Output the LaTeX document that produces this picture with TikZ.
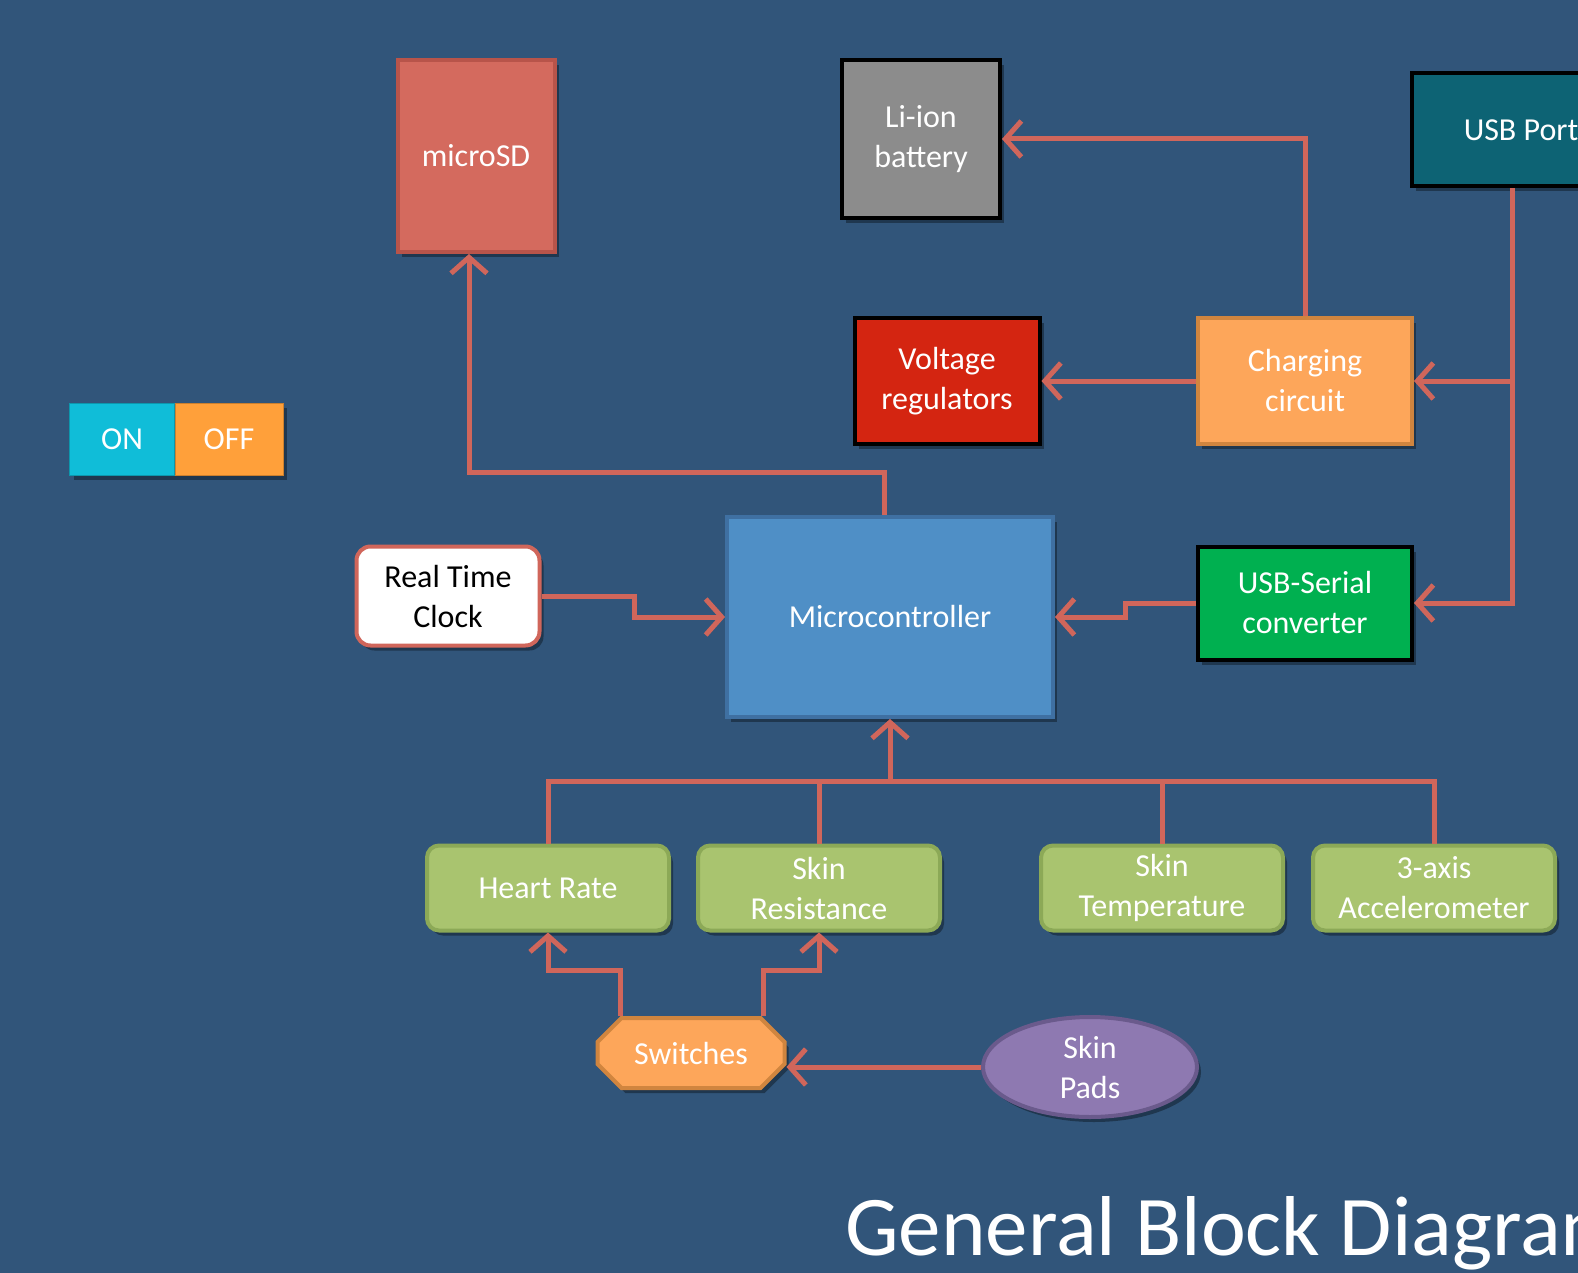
\documentclass[tikz,border=0pt]{standalone}
\usepackage{fontspec}
\setmainfont{Carlito}
\usetikzlibrary{arrows.meta}
\usetikzlibrary{backgrounds}
\usetikzlibrary{shapes.geometric}
\usetikzlibrary{shapes.misc}
\usetikzlibrary{shadows}
\definecolor{bgblue}{HTML}{31557A}
\definecolor{wire}{HTML}{D0665B}
\definecolor{sdred}{HTML}{D46A5E}
\definecolor{sdline}{HTML}{B8544A}
\definecolor{batgray}{HTML}{8C8C8C}
\definecolor{usbteal}{HTML}{0D6374}
\definecolor{vregred}{HTML}{D42511}
\definecolor{chgorange}{HTML}{FDA65A}
\definecolor{chgline}{HTML}{D0853F}
\definecolor{oncyan}{HTML}{10BDD8}
\definecolor{offorange}{HTML}{FFA03A}
\definecolor{mcblue}{HTML}{4F8FC6}
\definecolor{mcline}{HTML}{3F70A2}
\definecolor{sergreen}{HTML}{00B050}
\definecolor{sensgreen}{HTML}{A9C46F}
\definecolor{sensline}{HTML}{8CA957}
\definecolor{padpurple}{HTML}{8E79B1}
\definecolor{padline}{HTML}{6A5A8C}
\newcommand{\boxfont}{\fontsize{32}{40}\selectfont}

\begin{document}
\begin{tikzpicture}[x=1pt,y=-1pt,
    blk/.style={rectangle,line width=4pt,align=center,text=white,font=\boxfont,
        drop shadow={shadow xshift=4pt,shadow yshift=-5pt,opacity=0.35,fill=black}},
    sens/.style={blk,rounded corners=12pt,fill=sensgreen,draw=sensline,
        minimum width=242pt,minimum height=85pt},
    ln/.style={draw=wire,line width=5pt},
    ar/.style={ln,-{Straight Barb[length=16pt,width=36pt]}}]
    \fill[bgblue] (0,0) rectangle (1578,1273);
    \useasboundingbox (0,0) rectangle (1578,1273);

    \node[blk,fill=sdred,draw=sdline,minimum width=157pt,minimum height=192pt] (sd) at (476,156) {microSD};
    \node[blk,fill=batgray,draw=black,minimum width=158pt,minimum height=158pt] (bat) at (921,139) {Li-ion\\battery};
    \node[blk,fill=usbteal,draw=black,minimum width=218pt,minimum height=113pt] (usb) at (1521,130) {USB Port};
    \node[blk,fill=vregred,draw=black,minimum width=185pt,minimum height=126pt] (vr) at (947,381) {Voltage\\regulators};
    \node[blk,fill=chgorange,draw=chgline,minimum width=214pt,minimum height=126pt] (chg) at (1305,381) {Charging\\circuit};
    \node[blk,fill=oncyan,draw=oncyan!80!black,line width=1pt,minimum width=105pt,minimum height=72pt] (on) at (122,439) {ON};
    \node[blk,fill=offorange,draw=offorange!80!black,line width=1pt,minimum width=108pt,minimum height=72pt] (off) at (229,439) {OFF};
    \node[blk,fill=mcblue,draw=mcline,minimum width=326pt,minimum height=200pt] (mc) at (890,617) {Microcontroller};
    \node[blk,rounded corners=14pt,fill=white,draw=wire,text=black,minimum width=183pt,minimum height=99pt] (rtc) at (448,596) {Real Time\\Clock};
    \node[blk,fill=sergreen,draw=black,minimum width=214pt,minimum height=113pt] (ser) at (1305,603) {USB-Serial\\converter};

    \node[sens] (hr) at (548,888) {Heart Rate};
    \node[sens] (sr) at (819,888) {Skin\\Resistance};
    \node[sens] (st) at (1162,888) {Skin\\Temperature};
    \node[sens] (acc) at (1434,888) {3-axis\\Accelerometer};

    \node[blk,chamfered rectangle,chamfered rectangle xsep=12pt,chamfered rectangle ysep=12pt,
        fill=chgorange,draw=chgline,minimum width=187pt,minimum height=70pt] (sw) at (691,1053) {Switches};
    \node[blk,ellipse,fill=padpurple,draw=padline,minimum width=214pt,minimum height=100pt] (pads) at (1090,1067) {Skin\\Pads};

    \node[anchor=base west,text=white,font=\fontsize{85}{90}\selectfont,inner sep=0pt] (title) at (845,1255) {General Block Diagram};

    \coordinate (bus) at (890,781);

    \draw[ar] ([xshift=-6pt]mc.north) -- ++(0,-43) -| ([xshift=-7pt]sd.south);
    \draw[ar] (chg.north) |- (bat.east);
    \draw[ar] (chg.west) -- (vr.east);
    \draw[ar] ([xshift=-9pt]usb.south) |- (ser.east);
    \draw[ar] ([xshift=-9pt]usb.south |- chg.east) -- (chg.east);
    \draw[ar] (ser.west) -- ++(-71,0) |- (mc.east);
    \draw[ar] (rtc.east) -- ++(93,0) |- (mc.west);

    \draw[ln] (hr.north) |- (bus) -| (acc.north);
    \draw[ln] (sr.north) -- (sr.north |- bus);
    \draw[ln] (st.north) -- (st.north |- bus);
    \draw[ar] (bus) -- (mc.south);

    \draw[ar] ([xshift=-71pt]sw.north) -- ++(0,-46) -| (hr.south);
    \draw[ar] ([xshift=72pt]sw.north) -- ++(0,-46) -| (sr.south);
    \draw[ar] (pads.west) -- (pads.west -| sw.east);
\end{tikzpicture}
\end{document}
